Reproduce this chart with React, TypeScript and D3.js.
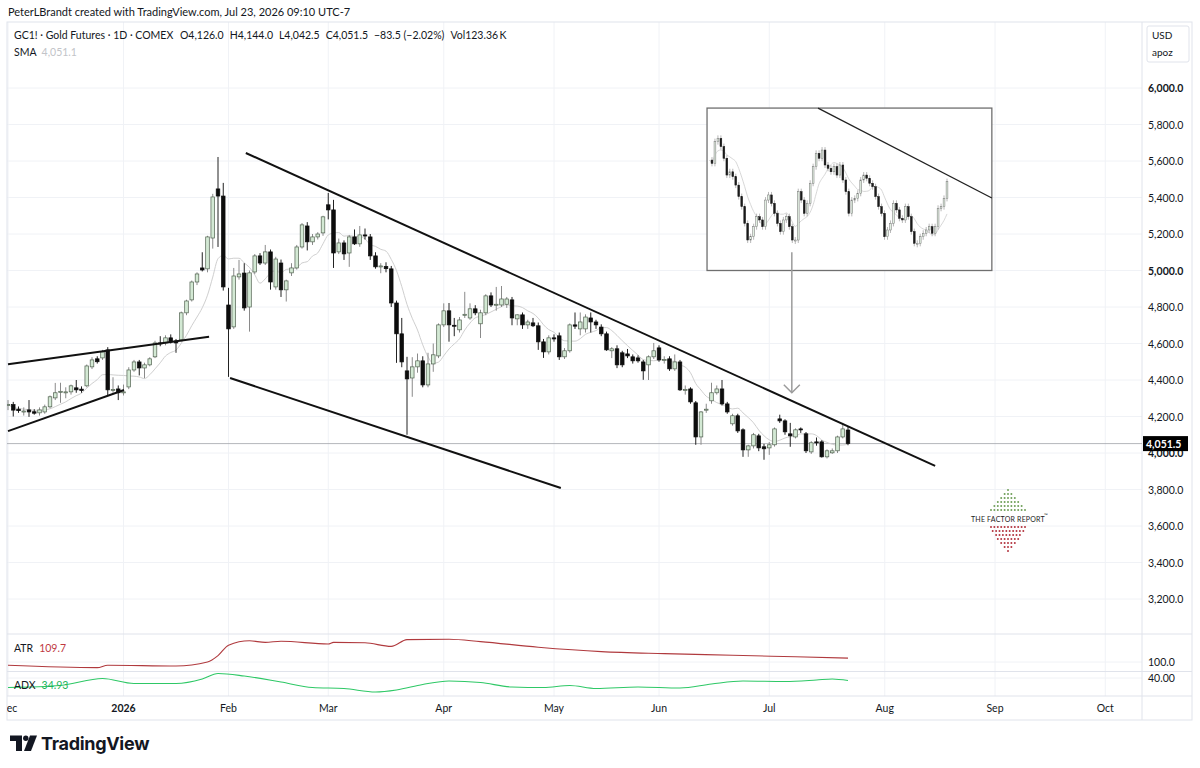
import React from 'react';
import * as d3 from 'd3';

// GC1! daily bars [open, high, low, close], one per trading day from Dec 1 2025 to Jul 23 2026
const CANDLES: [number, number, number, number][] = [
  [4260, 4290, 4235, 4265], [4265, 4280, 4200, 4235], [4240, 4255, 4220, 4232], [4228, 4250, 4205, 4230],
  [4236, 4290, 4198, 4225], [4226, 4240, 4210, 4218], [4220, 4250, 4205, 4236], [4225, 4265, 4215, 4253],
  [4253, 4315, 4245, 4308], [4302, 4384, 4290, 4330], [4335, 4385, 4275, 4338], [4332, 4360, 4300, 4335],
  [4335, 4375, 4320, 4368], [4357, 4400, 4330, 4346], [4350, 4365, 4330, 4342], [4368, 4485, 4360, 4477],
  [4472, 4525, 4460, 4510], [4516, 4530, 4490, 4500], [4521, 4565, 4510, 4554], [4565, 4580, 4315, 4346],
  [4345, 4415, 4330, 4348], [4351, 4370, 4290, 4330], [4330, 4375, 4315, 4335], [4362, 4470, 4350, 4455],
  [4455, 4510, 4445, 4499], [4499, 4510, 4425, 4466], [4466, 4495, 4410, 4483], [4483, 4525, 4475, 4516],
  [4527, 4615, 4520, 4603], [4603, 4640, 4585, 4598], [4603, 4645, 4590, 4631], [4631, 4650, 4600, 4609],
  [4614, 4625, 4549, 4603], [4620, 4775, 4610, 4768], [4768, 4840, 4755, 4833], [4839, 4945, 4830, 4937],
  [4937, 4990, 4920, 4981], [5014, 5100, 4995, 5003], [5009, 5190, 4990, 5184], [5178, 5420, 5120, 5403],
  [5447, 5622, 5129, 5408], [5408, 5480, 4890, 4910], [4811, 4905, 4417, 4680], [4691, 5014, 4680, 4970],
  [4965, 5058, 4950, 4981], [4986, 5040, 4780, 4795], [4800, 5000, 4665, 4987], [4992, 5090, 4980, 5080],
  [5080, 5095, 5030, 5041], [5041, 5140, 5030, 5102], [5102, 5115, 4895, 4937], [4910, 5075, 4895, 5063],
  [5041, 5060, 4855, 4894], [4894, 4950, 4830, 4943], [4987, 5040, 4970, 5014], [5014, 5140, 5005, 5129],
  [5129, 5260, 5120, 5250], [5244, 5265, 5110, 5157], [5157, 5200, 5140, 5184], [5184, 5210, 5170, 5200],
  [5206, 5300, 5190, 5294], [5360, 5425, 5280, 5332], [5332, 5387, 5014, 5096], [5102, 5175, 5090, 5151],
  [5151, 5165, 5058, 5091], [5096, 5195, 5020, 5184], [5184, 5225, 5140, 5146], [5146, 5244, 5130, 5195],
  [5195, 5230, 5170, 5189], [5184, 5200, 5058, 5080], [5080, 5100, 5010, 5020], [5020, 5040, 4985, 5025],
  [5022, 5045, 4990, 5010], [5009, 5025, 4800, 4822], [4822, 4835, 4494, 4653], [4653, 4740, 4470, 4499],
  [4450, 4527, 4100, 4406], [4411, 4525, 4308, 4472], [4472, 4545, 4440, 4505], [4505, 4530, 4360, 4373],
  [4373, 4549, 4360, 4488], [4488, 4600, 4445, 4538], [4532, 4710, 4520, 4702], [4702, 4820, 4690, 4779],
  [4779, 4822, 4610, 4702], [4700, 4740, 4640, 4695], [4675, 4745, 4660, 4729], [4757, 4883, 4740, 4760],
  [4740, 4820, 4730, 4790], [4790, 4810, 4755, 4768], [4708, 4785, 4630, 4768], [4768, 4870, 4755, 4861],
  [4861, 4880, 4800, 4811], [4811, 4910, 4780, 4815], [4811, 4915, 4800, 4844], [4815, 4855, 4795, 4844],
  [4839, 4855, 4700, 4740], [4735, 4760, 4700, 4757], [4757, 4770, 4680, 4702], [4702, 4730, 4680, 4718],
  [4713, 4740, 4690, 4697], [4697, 4715, 4565, 4609], [4609, 4625, 4521, 4554], [4554, 4645, 4540, 4631],
  [4631, 4650, 4610, 4625], [4642, 4660, 4510, 4527], [4527, 4575, 4515, 4560], [4560, 4710, 4550, 4702],
  [4702, 4770, 4680, 4695], [4680, 4770, 4645, 4718], [4680, 4760, 4660, 4745], [4740, 4770, 4660, 4718],
  [4718, 4730, 4680, 4702], [4690, 4705, 4640, 4653], [4653, 4665, 4560, 4565], [4560, 4580, 4520, 4571],
  [4571, 4590, 4465, 4483], [4549, 4560, 4470, 4483], [4543, 4570, 4520, 4532], [4527, 4540, 4490, 4505],
  [4521, 4535, 4495, 4505], [4499, 4510, 4401, 4450], [4483, 4535, 4400, 4527], [4527, 4603, 4515, 4560],
  [4576, 4590, 4500, 4510], [4510, 4530, 4490, 4512], [4516, 4530, 4450, 4461], [4461, 4540, 4450, 4499],
  [4499, 4510, 4340, 4346], [4346, 4370, 4320, 4348], [4351, 4360, 4270, 4280], [4275, 4285, 4045, 4088],
  [4088, 4230, 4045, 4225], [4236, 4270, 4220, 4240], [4286, 4385, 4270, 4330], [4330, 4370, 4320, 4351],
  [4351, 4400, 4260, 4269], [4269, 4280, 4215, 4225], [4160, 4215, 4150, 4204], [4204, 4215, 4110, 4121],
  [4127, 4135, 3979, 4017], [4017, 4045, 3979, 4039], [4039, 4110, 4025, 4100], [4094, 4105, 4010, 4028],
  [4034, 4050, 3963, 4023], [4028, 4060, 3990, 4045], [4045, 4140, 4035, 4132], [4187, 4210, 4165, 4176],
  [4176, 4185, 4100, 4116], [4105, 4165, 4034, 4094], [4088, 4135, 4080, 4127], [4132, 4140, 4110, 4127],
  [4105, 4115, 4000, 4012], [4006, 4065, 3995, 4056], [4061, 4085, 4040, 4058], [4061, 4070, 3975, 3979],
  [3979, 4020, 3970, 4012], [4001, 4025, 3995, 4012], [4012, 4095, 4000, 4088], [4088, 4165, 4080, 4132],
  [4126, 4144, 4042.5, 4051.5],
];

const SMA_PERIOD = 8;

// exchange holidays skipped by the time axis
const HOLIDAYS = ['2025-12-25', '2026-01-01', '2026-01-19', '2026-02-16', '2026-04-03',
  '2026-05-25', '2026-06-19', '2026-07-03', '2026-09-07'];
const MONTH_LABELS = ['Dec', '2026', 'Feb', 'Mar', 'Apr', 'May', 'Jun', 'Jul', 'Aug', 'Sep', 'Oct'];
const PRICE_TICKS = [3200, 3400, 3600, 3800, 4000, 4200, 4400, 4600, 4800, 5000, 5200, 5400, 5600, 5800, 6000];
const BOLD_TICKS = [4000, 5000, 6000];

// [bar index, value]
const ATR: [number, number][] = [
  [0, 92], [17, 86], [19, 92], [32, 90], [38, 100], [40, 116], [42, 142], [46, 153], [49, 149],
  [52, 152], [61, 145], [62, 149], [68, 148], [73, 139], [76, 156], [84, 157], [90, 151],
  [101, 137], [113, 126], [125, 121], [138, 117], [150, 113], [160, 109.7],
];
const ADX: [number, number][] = [
  [0, 21], [10, 25], [18, 39], [24, 29], [32, 29], [37, 38], [40, 49], [45, 44], [52, 32],
  [58, 21], [64, 19], [70, 12], [74, 16], [79, 27], [84, 34], [90, 31], [96, 22], [102, 21],
  [107, 25], [112, 19], [120, 22], [128, 20], [134, 28], [140, 34], [148, 33], [154, 36],
  [157, 38], [160, 34.93],
];

// drawn trendlines: [bar index, price] -> [bar index, price]
const TRENDLINES: [[number, number], [number, number]][] = [
  [[45.3, 5644], [176.6, 3929]],
  [[42.3, 4411], [105.3, 3808]],
  [[0, 4486], [38.3, 4637]],
  [[0, 4120], [22.1, 4345]],
];
const INSET_BOX = { i0: 133.15, i1: 187.4, top: 5890, bottom: 5000 };
const INSET_LINE: [[number, number], [number, number]] = [[154.3, 5890], [187.4, 5397]];
const ARROW = { i: 149.3, from: 5100, to: 4330 };

// closes of the older pattern pasted inside the box
const INSET_CLOSES = [
  5605, 5587, 5706, 5724, 5679, 5615, 5523, 5541, 5514, 5468, 5405, 5350, 5258, 5167, 5185, 5240,
  5295, 5277, 5240, 5386, 5414, 5368, 5313, 5258, 5213, 5277, 5295, 5240, 5167, 5167, 5432, 5386,
  5313, 5368, 5478, 5569, 5642, 5615, 5660, 5578, 5560, 5541, 5569, 5523, 5578, 5496, 5432, 5313,
  5386, 5395, 5423, 5496, 5523, 5505, 5478, 5459, 5405, 5350, 5313, 5185, 5222, 5258, 5368, 5332,
  5286, 5277, 5350, 5295, 5213, 5149, 5149, 5185, 5204, 5222, 5240, 5204, 5240, 5341, 5350, 5395, 5487,
];

const HEADER_TOP = 'PeterLBrandt created with TradingView.com, Jul 23, 2026 09:10 UTC-7';
const HEADER_SYMBOL = 'GC1! \u00b7 Gold Futures \u00b7 1D \u00b7 COMEX';
const HEADER_OHLC = ['O4,126.0', 'H4,144.0', 'L4,042.5', 'C4,051.5', '\u221283.5 (\u22122.02%)', 'Vol123.36\u2009K'];
const SMA_VALUE = '4,051.1';
const ATR_VALUE = '109.7';
const ADX_VALUE = '34.93';
const LAST_PRICE = 4051.5;

const FONT = "Lato, 'DejaVu Sans', sans-serif";
const TEXT = '#131722';
const GRID = '#f0f2f6';
const BORDER = '#e0e3eb';

function tradingDays(from: string, to: string) {
  const out: Date[] = [];
  const d = new Date(from + 'T00:00:00Z');
  const end = new Date(to + 'T00:00:00Z');
  while (d <= end) {
    const wd = d.getUTCDay();
    const iso = d.toISOString().slice(0, 10);
    if (wd !== 0 && wd !== 6 && !HOLIDAYS.includes(iso)) out.push(new Date(d));
    d.setUTCDate(d.getUTCDate() + 1);
  }
  return out;
}

const sma = (vals: number[], n: number) =>
  vals.map((_, i) => d3.mean(vals.slice(Math.max(0, i - n + 1), i + 1)) as number);

export default function App() {
  const x = d3.scaleLinear().domain([0, CANDLES.length - 1]).range([8, 848]);
  const y = d3.scaleLinear().domain([3200, 6000]).range([599, 88]);
  const yAtr = d3.scaleLinear().domain([100, 150]).range([662, 642]);
  const yAdx = d3.scaleLinear().domain([40, 20]).range([678, 688]);
  const fmt = d3.format(',.1f');

  const days = tradingDays('2025-12-01', '2026-10-30');
  const monthTicks: number[] = [];
  days.forEach((d, i) => {
    if (i === 0 || d.getUTCMonth() !== days[i - 1].getUTCMonth()) monthTicks.push(i);
  });
  const ticks = monthTicks.slice(0, MONTH_LABELS.length);

  const closes = CANDLES.map((c) => c[3]);
  const smaLine = d3.line<number>().x((_, i) => x(i)).y((v) => y(v)).curve(d3.curveMonotoneX)(sma(closes, SMA_PERIOD));

  const atrLine = d3.line<[number, number]>().x((d) => x(d[0])).y((d) => yAtr(d[1])).curve(d3.curveMonotoneX)(ATR);
  const adxLine = d3.line<[number, number]>().x((d) => x(d[0])).y((d) => yAdx(d[1])).curve(d3.curveMonotoneX)(ADX);

  const xi = d3.scaleLinear().domain([0, INSET_CLOSES.length - 1]).range([709, 947]);
  const insetSma = d3.line<number>().x((_, i) => xi(i)).y((v) => y(v)).curve(d3.curveMonotoneX)(sma(INSET_CLOSES, 8));

  const bw = 3.6;
  const arrowTip = y(ARROW.to);
  const ax = x(ARROW.i);

  // logo dot triangles
  const dotX = (k: number, n: number) => 1008 + (k - (n - 1) / 2) * 3.4;
  const greenRows = [1, 3, 5, 7, 9, 11].map((n, r) => ({ yy: 490 + r * 4, n }));
  const redRows = [11, 10, 8, 7, 5, 3, 1].map((n, r) => ({ yy: 527 + r * 4, n }));

  return (
    <svg width={1200} height={768} style={{ position: 'absolute', left: 0, top: 0, background: '#fff' }}
      fontFamily={FONT}>
      <defs>
        <clipPath id="plot"><rect x={7} y={22} width={1135} height={612} /></clipPath>
        <clipPath id="timeax"><rect x={7} y={696} width={1135} height={24} /></clipPath>
      </defs>
      <rect width={1200} height={768} fill="#fff" />

      <text x={8} y={16} fontSize={11} fill={TEXT}>{HEADER_TOP}</text>

      {/* grid */}
      {PRICE_TICKS.map((p) => (
        <line key={p} x1={7} x2={1142} y1={y(p)} y2={y(p)} stroke={GRID} />
      ))}
      {ticks.map((i) => (
        <line key={i} x1={x(i)} x2={x(i)} y1={22} y2={696} stroke={GRID} />
      ))}
      <line x1={7} x2={1142} y1={yAtr(100)} y2={yAtr(100)} stroke={GRID} />
      <line x1={7} x2={1142} y1={yAdx(40)} y2={yAdx(40)} stroke={GRID} />

      {/* frame and pane separators */}
      <rect x={7} y={22} width={1185} height={698} fill="none" stroke={BORDER} />
      <line x1={1142} x2={1142} y1={22} y2={720} stroke={BORDER} />
      <line x1={7} x2={1192} y1={634} y2={634} stroke={BORDER} />
      <line x1={7} x2={1192} y1={671.5} y2={671.5} stroke={BORDER} />
      <line x1={7} x2={1192} y1={696} y2={696} stroke={BORDER} />

      <g clipPath="url(#plot)">
        <line x1={7} x2={1142} y1={y(LAST_PRICE)} y2={y(LAST_PRICE)} stroke="#a0a3a8" strokeWidth={0.8} />
        <path d={smaLine || ''} fill="none" stroke="#cfcfcf" strokeWidth={1} />
        {CANDLES.map(([o, h, l, c], i) => {
          const up = c >= o;
          const cx = x(i);
          const top = y(Math.max(o, c));
          const hgt = Math.max(1, Math.abs(y(o) - y(c)));
          return (
            <g key={i}>
              <line x1={cx} x2={cx} y1={y(h)} y2={y(l)} stroke={up ? '#8a8a8a' : '#222'} strokeWidth={1} />
              <rect x={cx - bw / 2} y={top} width={bw} height={hgt}
                fill={up ? '#d3e9d4' : '#0d0d0d'} stroke={up ? '#50604f' : '#0d0d0d'} strokeWidth={0.7} />
            </g>
          );
        })}

        {TRENDLINES.map(([a, b], k) => (
          <line key={k} x1={x(a[0])} y1={y(a[1])} x2={x(b[0])} y2={y(b[1])} stroke="#111" strokeWidth={2} />
        ))}

        {/* inset */}
        <rect x={x(INSET_BOX.i0)} y={y(INSET_BOX.top)} width={x(INSET_BOX.i1) - x(INSET_BOX.i0)}
          height={y(INSET_BOX.bottom) - y(INSET_BOX.top)} fill="#fff" stroke="#6f6f6f" strokeWidth={1.3} />
        <path d={insetSma || ''} fill="none" stroke="#d8d8d8" strokeWidth={1} />
        {INSET_CLOSES.map((c, i) => {
          if (i === 0) return null;
          const o = INSET_CLOSES[i - 1];
          const up = c >= o;
          const cx = xi(i);
          const top = y(Math.max(o, c));
          const hgt = Math.max(1, Math.abs(y(o) - y(c)));
          return (
            <g key={i}>
              <line x1={cx} x2={cx} y1={top - 3} y2={top + hgt + 3} stroke="#9a9a9a" strokeWidth={0.7} />
              <rect x={cx - 0.9} y={top} width={1.8} height={hgt}
                fill={up ? '#e2efe2' : '#1a1a1a'} stroke={up ? '#777' : '#1a1a1a'} strokeWidth={0.5} />
            </g>
          );
        })}
        <line x1={x(INSET_LINE[0][0])} y1={y(INSET_LINE[0][1])} x2={x(INSET_LINE[1][0])} y2={y(INSET_LINE[1][1])}
          stroke="#222" strokeWidth={1.3} />

        <line x1={ax} x2={ax} y1={y(ARROW.from)} y2={arrowTip} stroke="#9b9b9b" strokeWidth={1.5} />
        <polyline points={`${ax - 8},${arrowTip - 8} ${ax},${arrowTip} ${ax + 8},${arrowTip - 8}`}
          fill="none" stroke="#9b9b9b" strokeWidth={1.5} />
      </g>

      {/* legend */}
      <text x={14} y={39} fontSize={10.5} fill={TEXT}>
        {HEADER_SYMBOL}
        {HEADER_OHLC.map((t, k) => (
          <tspan key={k} dx={k === 0 ? 7 : 6}>{t}</tspan>
        ))}
      </text>
      <text x={14} y={56} fontSize={10.5} fill={TEXT}>SMA<tspan dx={5} fill="#c2c4c8">{SMA_VALUE}</tspan></text>

      {/* The Factor Report logo */}
      <g>
        {greenRows.map((r, ri) => d3.range(r.n).map((k) => (
          <circle key={`g${ri}-${k}`} cx={dotX(k, r.n)} cy={r.yy} r={1} fill="#6f9f58" />
        )))}
        {redRows.map((r, ri) => d3.range(r.n).map((k) => (
          <circle key={`r${ri}-${k}`} cx={dotX(k, r.n)} cy={r.yy} r={1} fill="#b3343f" />
        )))}
        <text x={971} y={522} fontSize={7} fill="#222" letterSpacing={0.2}>THE FACTOR REPORT</text>
        <text x={1044} y={517} fontSize={5} fill="#222">{'\u2122'}</text>
      </g>

      {/* indicators */}
      <path d={atrLine || ''} fill="none" stroke="#b03a3e" strokeWidth={1.1} />
      <path d={adxLine || ''} fill="none" stroke="#2ec866" strokeWidth={1.1} />
      <text x={14} y={652} fontSize={10.5} fill={TEXT}>ATR<tspan dx={6} fill="#c0393f">{ATR_VALUE}</tspan></text>
      <text x={14} y={689} fontSize={10.5} fill={TEXT}>ADX<tspan dx={6} fill="#22b35a">{ADX_VALUE}</tspan></text>

      {/* right price axis */}
      <rect x={1147} y={26} width={42} height={36} rx={2} fill="#fff" stroke={BORDER} />
      <text x={1152} y={39} fontSize={10} fill={TEXT}>USD</text>
      <text x={1152} y={56} fontSize={10} fill={TEXT}>apoz</text>
      {PRICE_TICKS.filter((p) => p !== 4000).map((p) => (
        <text key={p} x={1148} y={y(p) + 4} fontSize={10.5} fill={TEXT}
          fontWeight={BOLD_TICKS.includes(p) ? 700 : 400}>{fmt(p)}</text>
      ))}
      {/* 4,000.0 sits under the last-price tag; only its lower part shows */}
      <clipPath id="under-tag"><rect x={1143} y={y(LAST_PRICE) + 7.5} width={50} height={10} /></clipPath>
      <text x={1148} y={y(4000) + 4} fontSize={10.5} fill={TEXT} fontWeight={700}
        clipPath="url(#under-tag)">{fmt(4000)}</text>
      <rect x={1143} y={y(LAST_PRICE) - 7.5} width={45} height={15} fill="#000" />
      <text x={1146} y={y(LAST_PRICE) + 4} fontSize={10.5} fill="#fff" fontWeight={700}>{fmt(LAST_PRICE)}</text>
      <text x={1148} y={yAtr(100) + 4} fontSize={10.5} fill={TEXT}>{fmt(100)}</text>
      <text x={1148} y={yAdx(40) + 4} fontSize={10.5} fill={TEXT}>{d3.format('.2f')(40)}</text>

      {/* time axis */}
      <g clipPath="url(#timeax)">
        {ticks.map((i, k) => (
          <text key={i} x={x(i)} y={712} fontSize={10.5} fill={TEXT} textAnchor="middle"
            fontWeight={MONTH_LABELS[k] === '2026' ? 700 : 400}>{MONTH_LABELS[k]}</text>
        ))}
      </g>

      {/* TradingView logo */}
      <g fill="#131722">
        <path d="M10 735.5 H22 V751 H16 V741 H10 Z" />
        <circle cx={25.8} cy={738.3} r={2.7} />
        <path d="M30 735.5 H37 L31 751 H24 Z" />
        <text x={41} y={750} fontSize={18} fontWeight={700} fontFamily="Inter, Lato, sans-serif"
          letterSpacing={-0.3}>TradingView</text>
      </g>
    </svg>
  );
}
